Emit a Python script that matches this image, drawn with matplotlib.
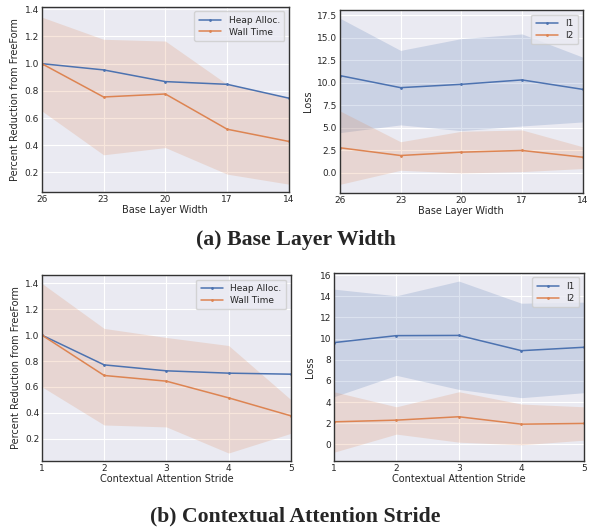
import matplotlib
matplotlib.use('Agg')
import matplotlib.pyplot as plt
import seaborn as sns
import numpy as np

sns.set_style('darkgrid')
plt.rcParams['font.family'] = ['DejaVu Sans']

### Data ###
width = [26, 23, 20, 17, 14]
heap_a = [1.0, 0.954, 0.868, 0.848, 0.746]
wall_a = [1.0, 0.755, 0.777, 0.518, 0.428]
wall_a_hi = [1.342, 1.179, 1.166, 0.848, 0.751]
wall_a_lo = [0.653, 0.330, 0.383, 0.188, 0.114]

l1_a = [10.82, 9.48, 9.85, 10.34, 9.29]
l1_a_hi = [17.2, 13.62, 14.93, 15.45, 12.87]
l1_a_lo = [4.48, 5.34, 4.70, 5.22, 5.67]
l2_a = [2.80, 1.94, 2.31, 2.50, 1.75]
l2_a_hi = [6.90, 3.47, 4.63, 4.78, 2.91]
l2_a_lo = [-1.27, 0.30, 0.0, 0.15, 0.49]

stride = [1, 2, 3, 4, 5]
heap_b = [1.0, 0.770, 0.724, 0.706, 0.698]
wall_b = [1.0, 0.688, 0.644, 0.515, 0.376]
wall_b_hi = [1.40, 1.052, 0.982, 0.920, 0.502]
wall_b_lo = [0.60, 0.305, 0.290, 0.088, 0.240]

l1_b = [9.62, 10.28, 10.30, 8.86, 9.18]
l1_b_hi = [14.67, 14.04, 15.43, 13.34, 13.44]
l1_b_lo = [4.51, 6.53, 5.20, 4.42, 4.89]
l2_b = [2.14, 2.30, 2.62, 1.92, 1.99]
l2_b_hi = [4.98, 3.56, 4.98, 3.82, 3.56]
l2_b_lo = [-0.73, 0.98, 0.22, -0.03, 0.41]

blue = '#4c72b0'
orange = '#dd8452'

fig = plt.figure(figsize=(5.91, 5.31), dpi=100)
ax1 = fig.add_axes([0.0706, 0.638, 0.4184, 0.349])
ax2 = fig.add_axes([0.575, 0.637, 0.411, 0.344])
ax3 = fig.add_axes([0.071, 0.132, 0.421, 0.350])
ax4 = fig.add_axes([0.565, 0.132, 0.423, 0.354])


def draw(ax, x, y1, y2, names, b1, b2):
    if b1 is not None:
        ax.fill_between(x, b1[0], b1[1], color=blue, alpha=0.2, lw=0)
    ax.fill_between(x, b2[0], b2[1], color=orange, alpha=0.2, lw=0)
    ax.plot(x, y1, color=blue, marker='.', markersize=2, lw=1.1, label=names[0])
    ax.plot(x, y2, color=orange, marker='.', markersize=2, lw=1.1, label=names[1])
    ax.tick_params(labelsize=6.5, pad=2, length=0)
    for s in ax.spines.values():
        s.set_visible(True)
        s.set_color('#333333')
        s.set_linewidth(1.0)
    leg = ax.legend(loc='upper right', fontsize=6.5, frameon=True, handlelength=2.5,
                    borderpad=0.5, labelspacing=0.3)
    leg.get_frame().set_facecolor('#eaeaf2')
    leg.get_frame().set_edgecolor('#cccccc')


draw(ax1, width, heap_a, wall_a, ['Heap Alloc.', 'Wall Time'], None, (wall_a_lo, wall_a_hi))
ax1.set_xlim(26, 14)
ax1.set_xticks(width)
ax1.set_ylim(0.055, 1.417)
ax1.set_yticks([0.2, 0.4, 0.6, 0.8, 1.0, 1.2, 1.4])
ax1.set_xlabel('Base Layer Width', fontsize=7, labelpad=1)
ax1.set_ylabel('Percent Reduction from FreeForm', fontsize=7, labelpad=3)

draw(ax2, width, l1_a, l2_a, ['l1', 'l2'], (l1_a_lo, l1_a_hi), (l2_a_lo, l2_a_hi))
ax2.set_xlim(26, 14)
ax2.set_xticks(width)
ax2.set_ylim(-2.2, 18.1)
ax2.set_yticks([0.0, 2.5, 5.0, 7.5, 10.0, 12.5, 15.0, 17.5])
ax2.set_xlabel('Base Layer Width', fontsize=7, labelpad=1)
ax2.set_ylabel('Loss', fontsize=7, labelpad=3)

draw(ax3, stride, heap_b, wall_b, ['Heap Alloc.', 'Wall Time'], None, (wall_b_lo, wall_b_hi))
ax3.set_xlim(1, 5)
ax3.set_xticks(stride)
ax3.set_ylim(0.027, 1.465)
ax3.set_yticks([0.2, 0.4, 0.6, 0.8, 1.0, 1.2, 1.4])
ax3.set_xlabel('Contextual Attention Stride', fontsize=7, labelpad=1)
ax3.set_ylabel('Percent Reduction from FreeForm', fontsize=7, labelpad=3)

draw(ax4, stride, l1_b, l2_b, ['l1', 'l2'], (l1_b_lo, l1_b_hi), (l2_b_lo, l2_b_hi))
ax4.set_xlim(1, 5)
ax4.set_xticks(stride)
ax4.set_ylim(-1.55, 16.2)
ax4.set_yticks([0, 2, 4, 6, 8, 10, 12, 14, 16])
ax4.set_xlabel('Contextual Attention Stride', fontsize=7, labelpad=1)
ax4.set_ylabel('Loss', fontsize=7, labelpad=3)

fig.text(0.5, 1 - 240 / 531, '(a) Base Layer Width', ha='center', va='center',
         fontsize=15.7, fontweight='bold', family='Liberation Serif')
fig.text(0.5, 1 - 516 / 531, '(b) Contextual Attention Stride', ha='center', va='center',
         fontsize=15.7, fontweight='bold', family='Liberation Serif')

fig.savefig('out.png', dpi=100, facecolor='white')
